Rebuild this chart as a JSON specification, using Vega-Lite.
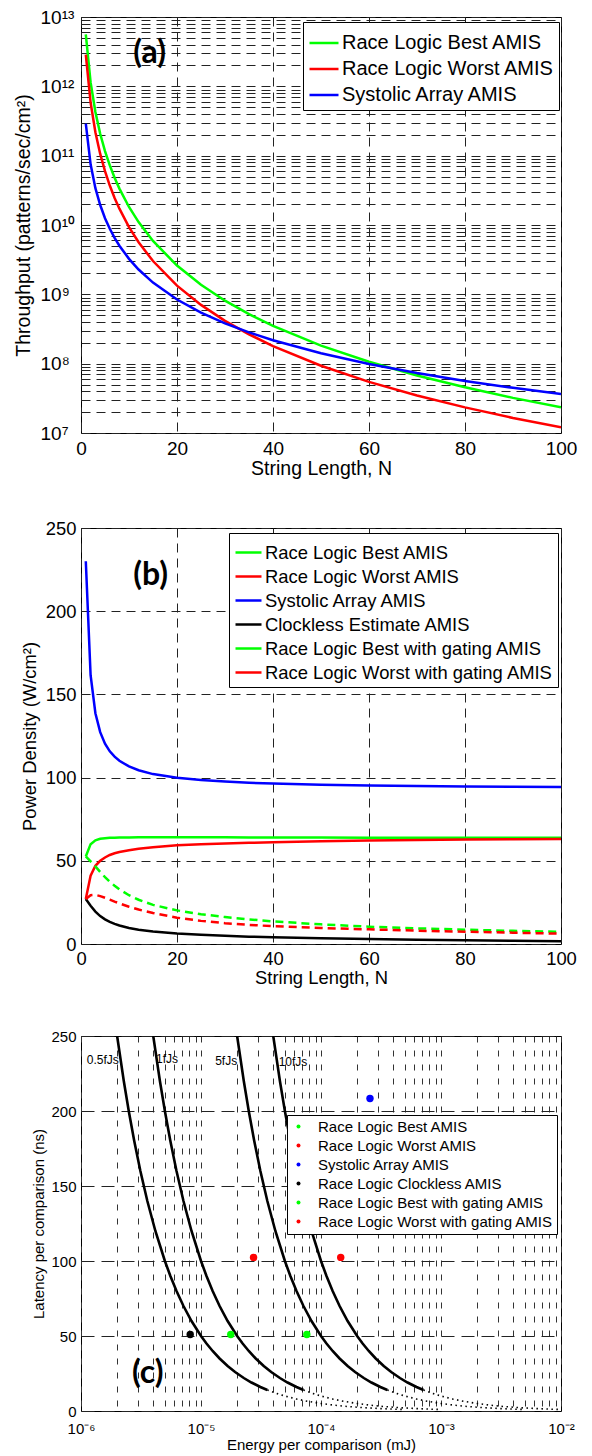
{
"$schema":"https://vega.github.io/schema/vega-lite/v6.json",
"background":"white",
"padding":{"left":12,"top":7,"right":4,"bottom":2},
"spacing":40,
"resolve":{"scale":{"color":"independent"}},
"config":{
 "font":"Liberation Sans",
 "view":{"stroke":"black","strokeWidth":1},
 "axis":{"domain":false,"ticks":false,"labelColor":"black","titleColor":"black","titleFontWeight":"normal","gridColor":"#222","gridOpacity":1,"gridWidth":1,"labelFlush":false,"labelOverlap":false}
},
"datasets":{
"thr":[
{"s":"Race Logic Best AMIS","N":1,"v":5.6e12},{"s":"Race Logic Best AMIS","N":2,"v":1.138e12},{"s":"Race Logic Best AMIS","N":3,"v":4.26e11},{"s":"Race Logic Best AMIS","N":4,"v":2.07e11},{"s":"Race Logic Best AMIS","N":5,"v":1.165e11},{"s":"Race Logic Best AMIS","N":6,"v":7.23e10},{"s":"Race Logic Best AMIS","N":7,"v":4.8e10},{"s":"Race Logic Best AMIS","N":8,"v":3.35e10},{"s":"Race Logic Best AMIS","N":10,"v":1.82e10},{"s":"Race Logic Best AMIS","N":12,"v":1.1e10},{"s":"Race Logic Best AMIS","N":15,"v":5.89e9},{"s":"Race Logic Best AMIS","N":20,"v":2.6e9},{"s":"Race Logic Best AMIS","N":25,"v":1.372e9},{"s":"Race Logic Best AMIS","N":30,"v":8.1e8},{"s":"Race Logic Best AMIS","N":35,"v":5.17e8},{"s":"Race Logic Best AMIS","N":40,"v":3.5e8},{"s":"Race Logic Best AMIS","N":50,"v":1.822e8},{"s":"Race Logic Best AMIS","N":60,"v":1.066e8},{"s":"Race Logic Best AMIS","N":70,"v":6.76e7},{"s":"Race Logic Best AMIS","N":80,"v":4.56e7},{"s":"Race Logic Best AMIS","N":90,"v":3.21e7},{"s":"Race Logic Best AMIS","N":100,"v":2.35e7},
{"s":"Race Logic Worst AMIS","N":1,"v":2.87e12},{"s":"Race Logic Worst AMIS","N":2,"v":5.84e11},{"s":"Race Logic Worst AMIS","N":3,"v":2.18e11},{"s":"Race Logic Worst AMIS","N":4,"v":1.06e11},{"s":"Race Logic Worst AMIS","N":5,"v":5.97e10},{"s":"Race Logic Worst AMIS","N":6,"v":3.71e10},{"s":"Race Logic Worst AMIS","N":7,"v":2.46e10},{"s":"Race Logic Worst AMIS","N":8,"v":1.72e10},{"s":"Race Logic Worst AMIS","N":10,"v":9.33e9},{"s":"Race Logic Worst AMIS","N":12,"v":5.64e9},{"s":"Race Logic Worst AMIS","N":15,"v":3.02e9},{"s":"Race Logic Worst AMIS","N":20,"v":1.333e9},{"s":"Race Logic Worst AMIS","N":25,"v":7.04e8},{"s":"Race Logic Worst AMIS","N":30,"v":4.15e8},{"s":"Race Logic Worst AMIS","N":35,"v":2.65e8},{"s":"Race Logic Worst AMIS","N":40,"v":1.795e8},{"s":"Race Logic Worst AMIS","N":50,"v":9.34e7},{"s":"Race Logic Worst AMIS","N":60,"v":5.47e7},{"s":"Race Logic Worst AMIS","N":70,"v":3.47e7},{"s":"Race Logic Worst AMIS","N":80,"v":2.34e7},{"s":"Race Logic Worst AMIS","N":90,"v":1.646e7},{"s":"Race Logic Worst AMIS","N":100,"v":1.205e7},
{"s":"Systolic Array AMIS","N":1,"v":2.9e11},{"s":"Systolic Array AMIS","N":2,"v":7.51e10},{"s":"Systolic Array AMIS","N":3,"v":3.4e10},{"s":"Systolic Array AMIS","N":4,"v":1.942e10},{"s":"Systolic Array AMIS","N":5,"v":1.255e10},{"s":"Systolic Array AMIS","N":6,"v":8.81e9},{"s":"Systolic Array AMIS","N":7,"v":6.52e9},{"s":"Systolic Array AMIS","N":8,"v":5.03e9},{"s":"Systolic Array AMIS","N":10,"v":3.25e9},{"s":"Systolic Array AMIS","N":12,"v":2.28e9},{"s":"Systolic Array AMIS","N":15,"v":1.476e9},{"s":"Systolic Array AMIS","N":20,"v":8.42e8},{"s":"Systolic Array AMIS","N":25,"v":5.45e8},{"s":"Systolic Array AMIS","N":30,"v":3.82e8},{"s":"Systolic Array AMIS","N":35,"v":2.83e8},{"s":"Systolic Array AMIS","N":40,"v":2.18e8},{"s":"Systolic Array AMIS","N":50,"v":1.41e8},{"s":"Systolic Array AMIS","N":60,"v":9.88e7},{"s":"Systolic Array AMIS","N":70,"v":7.32e7},{"s":"Systolic Array AMIS","N":80,"v":5.64e7},{"s":"Systolic Array AMIS","N":90,"v":4.48e7},{"s":"Systolic Array AMIS","N":100,"v":3.65e7}
],
"powSolid":[
{"s":"Race Logic Best AMIS","N":1,"v":52.6},{"s":"Race Logic Best AMIS","N":2,"v":60},{"s":"Race Logic Best AMIS","N":3,"v":62.3},{"s":"Race Logic Best AMIS","N":4,"v":63.2},{"s":"Race Logic Best AMIS","N":5,"v":63.6},{"s":"Race Logic Best AMIS","N":6,"v":63.8},{"s":"Race Logic Best AMIS","N":7,"v":63.9},{"s":"Race Logic Best AMIS","N":8,"v":64},{"s":"Race Logic Best AMIS","N":10,"v":64},{"s":"Race Logic Best AMIS","N":12,"v":64.1},{"s":"Race Logic Best AMIS","N":15,"v":64.1},{"s":"Race Logic Best AMIS","N":20,"v":64.1},{"s":"Race Logic Best AMIS","N":25,"v":64.1},{"s":"Race Logic Best AMIS","N":30,"v":64.1},{"s":"Race Logic Best AMIS","N":35,"v":64},{"s":"Race Logic Best AMIS","N":40,"v":64},{"s":"Race Logic Best AMIS","N":50,"v":64},{"s":"Race Logic Best AMIS","N":60,"v":63.9},{"s":"Race Logic Best AMIS","N":70,"v":63.9},{"s":"Race Logic Best AMIS","N":80,"v":63.9},{"s":"Race Logic Best AMIS","N":90,"v":63.8},{"s":"Race Logic Best AMIS","N":100,"v":63.8},
{"s":"Race Logic Worst AMIS","N":1,"v":27},{"s":"Race Logic Worst AMIS","N":2,"v":41},{"s":"Race Logic Worst AMIS","N":3,"v":47},{"s":"Race Logic Worst AMIS","N":4,"v":50},{"s":"Race Logic Worst AMIS","N":5,"v":52},{"s":"Race Logic Worst AMIS","N":6,"v":53.5},{"s":"Race Logic Worst AMIS","N":7,"v":54.5},{"s":"Race Logic Worst AMIS","N":8,"v":55.3},{"s":"Race Logic Worst AMIS","N":10,"v":56.3},{"s":"Race Logic Worst AMIS","N":12,"v":57.2},{"s":"Race Logic Worst AMIS","N":15,"v":58.2},{"s":"Race Logic Worst AMIS","N":20,"v":59.3},{"s":"Race Logic Worst AMIS","N":25,"v":59.9},{"s":"Race Logic Worst AMIS","N":30,"v":60.4},{"s":"Race Logic Worst AMIS","N":35,"v":60.8},{"s":"Race Logic Worst AMIS","N":40,"v":61.2},{"s":"Race Logic Worst AMIS","N":50,"v":61.7},{"s":"Race Logic Worst AMIS","N":60,"v":62.2},{"s":"Race Logic Worst AMIS","N":70,"v":62.5},{"s":"Race Logic Worst AMIS","N":80,"v":62.8},{"s":"Race Logic Worst AMIS","N":90,"v":63},{"s":"Race Logic Worst AMIS","N":100,"v":63.1},
{"s":"Systolic Array AMIS","N":1,"v":230},{"s":"Systolic Array AMIS","N":2,"v":161.5},{"s":"Systolic Array AMIS","N":3,"v":138.7},{"s":"Systolic Array AMIS","N":4,"v":127.3},{"s":"Systolic Array AMIS","N":5,"v":120.4},{"s":"Systolic Array AMIS","N":6,"v":115.8},{"s":"Systolic Array AMIS","N":7,"v":112.6},{"s":"Systolic Array AMIS","N":8,"v":110.1},{"s":"Systolic Array AMIS","N":10,"v":106.7},{"s":"Systolic Array AMIS","N":12,"v":104.4},{"s":"Systolic Array AMIS","N":15,"v":102.1},{"s":"Systolic Array AMIS","N":20,"v":99.9},{"s":"Systolic Array AMIS","N":25,"v":98.5},{"s":"Systolic Array AMIS","N":30,"v":97.6},{"s":"Systolic Array AMIS","N":35,"v":96.9},{"s":"Systolic Array AMIS","N":40,"v":96.4},{"s":"Systolic Array AMIS","N":50,"v":95.7},{"s":"Systolic Array AMIS","N":60,"v":95.3},{"s":"Systolic Array AMIS","N":70,"v":95},{"s":"Systolic Array AMIS","N":80,"v":94.7},{"s":"Systolic Array AMIS","N":90,"v":94.5},{"s":"Systolic Array AMIS","N":100,"v":94.4},
{"s":"Clockless Estimate AMIS","N":1,"v":27},{"s":"Clockless Estimate AMIS","N":2,"v":23},{"s":"Clockless Estimate AMIS","N":3,"v":19.5},{"s":"Clockless Estimate AMIS","N":4,"v":16.8},{"s":"Clockless Estimate AMIS","N":5,"v":14.8},{"s":"Clockless Estimate AMIS","N":6,"v":13.3},{"s":"Clockless Estimate AMIS","N":7,"v":12.1},{"s":"Clockless Estimate AMIS","N":8,"v":11.1},{"s":"Clockless Estimate AMIS","N":10,"v":9.6},{"s":"Clockless Estimate AMIS","N":12,"v":8.6},{"s":"Clockless Estimate AMIS","N":15,"v":7.5},{"s":"Clockless Estimate AMIS","N":20,"v":6.3},{"s":"Clockless Estimate AMIS","N":25,"v":5.5},{"s":"Clockless Estimate AMIS","N":30,"v":4.9},{"s":"Clockless Estimate AMIS","N":35,"v":4.4},{"s":"Clockless Estimate AMIS","N":40,"v":4},{"s":"Clockless Estimate AMIS","N":50,"v":3.4},{"s":"Clockless Estimate AMIS","N":60,"v":3},{"s":"Clockless Estimate AMIS","N":70,"v":2.6},{"s":"Clockless Estimate AMIS","N":80,"v":2.2},{"s":"Clockless Estimate AMIS","N":90,"v":1.9},{"s":"Clockless Estimate AMIS","N":100,"v":1.6}
],
"powDash":[
{"s":"Race Logic Best with gating AMIS","N":1,"v":52.6},{"s":"Race Logic Best with gating AMIS","N":2,"v":49.6},{"s":"Race Logic Best with gating AMIS","N":3,"v":46.6},{"s":"Race Logic Best with gating AMIS","N":4,"v":43.3},{"s":"Race Logic Best with gating AMIS","N":5,"v":40.2},{"s":"Race Logic Best with gating AMIS","N":6,"v":37.4},{"s":"Race Logic Best with gating AMIS","N":7,"v":35},{"s":"Race Logic Best with gating AMIS","N":8,"v":32.8},{"s":"Race Logic Best with gating AMIS","N":10,"v":29.3},{"s":"Race Logic Best with gating AMIS","N":12,"v":26.6},{"s":"Race Logic Best with gating AMIS","N":15,"v":23.5},{"s":"Race Logic Best with gating AMIS","N":20,"v":20.2},{"s":"Race Logic Best with gating AMIS","N":25,"v":17.9},{"s":"Race Logic Best with gating AMIS","N":30,"v":16.2},{"s":"Race Logic Best with gating AMIS","N":35,"v":14.8},{"s":"Race Logic Best with gating AMIS","N":40,"v":13.6},{"s":"Race Logic Best with gating AMIS","N":50,"v":11.8},{"s":"Race Logic Best with gating AMIS","N":60,"v":10.4},{"s":"Race Logic Best with gating AMIS","N":70,"v":9.4},{"s":"Race Logic Best with gating AMIS","N":80,"v":8.6},{"s":"Race Logic Best with gating AMIS","N":90,"v":7.9},{"s":"Race Logic Best with gating AMIS","N":100,"v":7.3},
{"s":"Race Logic Worst with gating AMIS","N":1,"v":27},{"s":"Race Logic Worst with gating AMIS","N":2,"v":29.3},{"s":"Race Logic Worst with gating AMIS","N":3,"v":29.5},{"s":"Race Logic Worst with gating AMIS","N":4,"v":28.8},{"s":"Race Logic Worst with gating AMIS","N":5,"v":27.8},{"s":"Race Logic Worst with gating AMIS","N":6,"v":26.7},{"s":"Race Logic Worst with gating AMIS","N":7,"v":25.5},{"s":"Race Logic Worst with gating AMIS","N":8,"v":24.4},{"s":"Race Logic Worst with gating AMIS","N":10,"v":22.4},{"s":"Race Logic Worst with gating AMIS","N":12,"v":20.7},{"s":"Race Logic Worst with gating AMIS","N":15,"v":18.6},{"s":"Race Logic Worst with gating AMIS","N":20,"v":15.8},{"s":"Race Logic Worst with gating AMIS","N":25,"v":13.9},{"s":"Race Logic Worst with gating AMIS","N":30,"v":12.5},{"s":"Race Logic Worst with gating AMIS","N":35,"v":11.5},{"s":"Race Logic Worst with gating AMIS","N":40,"v":10.7},{"s":"Race Logic Worst with gating AMIS","N":50,"v":9.6},{"s":"Race Logic Worst with gating AMIS","N":60,"v":8.8},{"s":"Race Logic Worst with gating AMIS","N":70,"v":8},{"s":"Race Logic Worst with gating AMIS","N":80,"v":7.4},{"s":"Race Logic Worst with gating AMIS","N":90,"v":6.8},{"s":"Race Logic Worst with gating AMIS","N":100,"v":6.2}
],
"curvesSolid":[
{"c":"0.5","t":250,"E":2e-6},{"c":"0.5","t":220,"E":2.2727e-6},{"c":"0.5","t":200,"E":2.5e-6},{"c":"0.5","t":180,"E":2.7778e-6},{"c":"0.5","t":160,"E":3.125e-6},{"c":"0.5","t":140,"E":3.5714e-6},{"c":"0.5","t":120,"E":4.1667e-6},{"c":"0.5","t":100,"E":5e-6},{"c":"0.5","t":90,"E":5.5556e-6},{"c":"0.5","t":80,"E":6.25e-6},{"c":"0.5","t":70,"E":7.1429e-6},{"c":"0.5","t":60,"E":8.3333e-6},{"c":"0.5","t":50,"E":1e-5},{"c":"0.5","t":45,"E":1.1111e-5},{"c":"0.5","t":40,"E":1.25e-5},{"c":"0.5","t":35,"E":1.4286e-5},{"c":"0.5","t":30,"E":1.6667e-5},{"c":"0.5","t":26,"E":1.9231e-5},{"c":"0.5","t":22,"E":2.2727e-5},{"c":"0.5","t":19,"E":2.6316e-5},{"c":"0.5","t":16,"E":3.125e-5},{"c":"0.5","t":14,"E":3.5714e-5},
{"c":"1","t":250,"E":4e-6},{"c":"1","t":220,"E":4.5455e-6},{"c":"1","t":200,"E":5e-6},{"c":"1","t":180,"E":5.5556e-6},{"c":"1","t":160,"E":6.25e-6},{"c":"1","t":140,"E":7.1429e-6},{"c":"1","t":120,"E":8.3333e-6},{"c":"1","t":100,"E":1e-5},{"c":"1","t":90,"E":1.1111e-5},{"c":"1","t":80,"E":1.25e-5},{"c":"1","t":70,"E":1.4286e-5},{"c":"1","t":60,"E":1.6667e-5},{"c":"1","t":50,"E":2e-5},{"c":"1","t":45,"E":2.2222e-5},{"c":"1","t":40,"E":2.5e-5},{"c":"1","t":35,"E":2.8571e-5},{"c":"1","t":30,"E":3.3333e-5},{"c":"1","t":26,"E":3.8462e-5},{"c":"1","t":22,"E":4.5455e-5},{"c":"1","t":19,"E":5.2632e-5},{"c":"1","t":16,"E":6.25e-5},{"c":"1","t":14,"E":7.1429e-5},
{"c":"5","t":250,"E":2e-5},{"c":"5","t":220,"E":2.2727e-5},{"c":"5","t":200,"E":2.5e-5},{"c":"5","t":180,"E":2.7778e-5},{"c":"5","t":160,"E":3.125e-5},{"c":"5","t":140,"E":3.5714e-5},{"c":"5","t":120,"E":4.1667e-5},{"c":"5","t":100,"E":5e-5},{"c":"5","t":90,"E":5.5556e-5},{"c":"5","t":80,"E":6.25e-5},{"c":"5","t":70,"E":7.1429e-5},{"c":"5","t":60,"E":8.3333e-5},{"c":"5","t":50,"E":1e-4},{"c":"5","t":45,"E":1.1111e-4},{"c":"5","t":40,"E":1.25e-4},{"c":"5","t":35,"E":1.4286e-4},{"c":"5","t":30,"E":1.6667e-4},{"c":"5","t":26,"E":1.9231e-4},{"c":"5","t":22,"E":2.2727e-4},{"c":"5","t":19,"E":2.6316e-4},{"c":"5","t":16,"E":3.125e-4},{"c":"5","t":14,"E":3.5714e-4},
{"c":"10","t":250,"E":4e-5},{"c":"10","t":220,"E":4.5455e-5},{"c":"10","t":200,"E":5e-5},{"c":"10","t":180,"E":5.5556e-5},{"c":"10","t":160,"E":6.25e-5},{"c":"10","t":140,"E":7.1429e-5},{"c":"10","t":120,"E":8.3333e-5},{"c":"10","t":100,"E":1e-4},{"c":"10","t":90,"E":1.1111e-4},{"c":"10","t":80,"E":1.25e-4},{"c":"10","t":70,"E":1.4286e-4},{"c":"10","t":60,"E":1.6667e-4},{"c":"10","t":50,"E":2e-4},{"c":"10","t":45,"E":2.2222e-4},{"c":"10","t":40,"E":2.5e-4},{"c":"10","t":35,"E":2.8571e-4},{"c":"10","t":30,"E":3.3333e-4},{"c":"10","t":26,"E":3.8462e-4},{"c":"10","t":22,"E":4.5455e-4},{"c":"10","t":19,"E":5.2632e-4},{"c":"10","t":16,"E":6.25e-4},{"c":"10","t":14,"E":7.1429e-4}
],
"curvesDot":[
{"c":"0.5","t":14,"E":3.5714e-5},{"c":"0.5","t":12,"E":4.1667e-5},{"c":"0.5","t":10,"E":5e-5},{"c":"0.5","t":8,"E":6.25e-5},{"c":"0.5","t":6.5,"E":7.6923e-5},{"c":"0.5","t":5,"E":1e-4},{"c":"0.5","t":4,"E":1.25e-4},{"c":"0.5","t":3,"E":1.6667e-4},{"c":"0.5","t":2.2,"E":2.2727e-4},{"c":"0.5","t":1.6,"E":3.125e-4},{"c":"0.5","t":1.2,"E":4.1667e-4},{"c":"0.5","t":1,"E":5e-4},
{"c":"1","t":14,"E":7.1429e-5},{"c":"1","t":12,"E":8.3333e-5},{"c":"1","t":10,"E":1e-4},{"c":"1","t":8,"E":1.25e-4},{"c":"1","t":6.5,"E":1.5385e-4},{"c":"1","t":5,"E":2e-4},{"c":"1","t":4,"E":2.5e-4},{"c":"1","t":3,"E":3.3333e-4},{"c":"1","t":2.2,"E":4.5455e-4},{"c":"1","t":1.6,"E":6.25e-4},{"c":"1","t":1.2,"E":8.3333e-4},{"c":"1","t":1,"E":1e-3},
{"c":"5","t":14,"E":3.5714e-4},{"c":"5","t":12,"E":4.1667e-4},{"c":"5","t":10,"E":5e-4},{"c":"5","t":8,"E":6.25e-4},{"c":"5","t":6.5,"E":7.6923e-4},{"c":"5","t":5,"E":1e-3},{"c":"5","t":4,"E":1.25e-3},{"c":"5","t":3,"E":1.6667e-3},{"c":"5","t":2.2,"E":2.2727e-3},{"c":"5","t":1.6,"E":3.125e-3},{"c":"5","t":1.2,"E":4.1667e-3},{"c":"5","t":1,"E":5e-3},
{"c":"10","t":14,"E":7.1429e-4},{"c":"10","t":12,"E":8.3333e-4},{"c":"10","t":10,"E":1e-3},{"c":"10","t":8,"E":1.25e-3},{"c":"10","t":6.5,"E":1.5385e-3},{"c":"10","t":5,"E":2e-3},{"c":"10","t":4,"E":2.5e-3},{"c":"10","t":3,"E":3.3333e-3},{"c":"10","t":2.2,"E":4.5455e-3},{"c":"10","t":1.6,"E":6.25e-3},{"c":"10","t":1.2,"E":8.3333e-3},{"c":"10","t":1,"E":1e-2}
],
"pts":[
{"s":"Race Logic Best AMIS","E":7.62e-5,"t":51},
{"s":"Race Logic Worst AMIS","E":1.46e-4,"t":102.4},
{"s":"Systolic Array AMIS","E":2.56e-4,"t":208.3},
{"s":"Race Logic Clockless AMIS","E":8.13e-6,"t":51},
{"s":"Race Logic Best with gating AMIS","E":1.77e-5,"t":51},
{"s":"Race Logic Worst with gating AMIS","E":2.74e-5,"t":102.4}
],
"ann":[
{"txt":"0.5fJs","E":1.52e-6,"t":234.2},
{"txt":"1fJs","E":5.21e-6,"t":234.7},
{"txt":"5fJs","E":1.62e-5,"t":233.3},
{"txt":"10fJs","E":5.84e-5,"t":232.7}
]
},
"vconcat":[
{
 "width":480,"height":416,
 "layer":[
  {"data":{"name":"thr"},
   "mark":{"type":"line","strokeWidth":2.5,"clip":true},
   "encoding":{
    "x":{"field":"N","type":"quantitative","title":"String Length, N","scale":{"domain":[0,100],"nice":false},
      "axis":{"values":[0,20,40,60,80,100],"grid":true,"gridDash":[9,6],"labelFontSize":19,"labelPadding":6,"titleFontSize":19.5,"titlePadding":1}},
    "y":{"field":"v","type":"quantitative","title":"Throughput (patterns/sec/cm²)","scale":{"type":"log","domain":[1e7,1e13],"nice":false},
      "axis":{"labelExpr":"datum.value == 1e7 ? '10⁷' : datum.value == 1e8 ? '10⁸' : datum.value == 1e9 ? '10⁹' : datum.value == 1e10 ? '10¹⁰' : datum.value == 1e11 ? '10¹¹' : datum.value == 1e12 ? '10¹²' : datum.value == 1e13 ? '10¹³' : ''",
       "grid":true,"gridDash":[9,6],"labelAlign":"left","labelPadding":41,"labelFontSize":19,"titleFontSize":19.5,"titlePadding":7}},
    "color":{"field":"s","type":"nominal","title":null,"scale":{"domain":["Race Logic Best AMIS","Race Logic Worst AMIS","Systolic Array AMIS"],"range":["#00ff00","#ff0000","#0000ff"]},
      "legend":{"orient":"none","legendX":222,"legendY":5,"padding":5,"labelFontSize":20,"rowPadding":0,"symbolType":"stroke","symbolSize":841,"symbolStrokeWidth":2.5,"labelOffset":2,"labelLimit":400,"labelColor":"black","strokeColor":"black","fillColor":"white"}}
   }},
  {"data":{"values":[{"lab":"(a)","N":14.3,"v":2.99e12}]},
   "mark":{"type":"text","font":"Lato","fontWeight":"bold","fontSize":32,"align":"center","baseline":"middle"},
   "encoding":{"x":{"field":"N","type":"quantitative","title":"String Length, N"},"y":{"field":"v","type":"quantitative","title":"Throughput (patterns/sec/cm²)"},"text":{"field":"lab"}}}
 ]
},
{
 "width":480,"height":416,
 "layer":[
  {"data":{"name":"powSolid"},
   "mark":{"type":"line","strokeWidth":2.5,"clip":true},
   "encoding":{
    "x":{"field":"N","type":"quantitative","title":"String Length, N","scale":{"domain":[0,100],"nice":false},
      "axis":{"values":[0,20,40,60,80,100],"grid":true,"gridDash":[9,6],"labelFontSize":18.4,"labelPadding":5,"titleFontSize":18.4,"titlePadding":1}},
    "y":{"field":"v","type":"quantitative","title":"Power Density (W/cm²)","scale":{"domain":[0,250],"nice":false},
      "axis":{"values":[0,50,100,150,200,250],"grid":true,"gridDash":[9,6],"labelPadding":5,"labelFontSize":18.4,"titleFontSize":18.4,"titlePadding":6}},
    "color":{"field":"s","type":"nominal","title":null,"scale":{"domain":["Race Logic Best AMIS","Race Logic Worst AMIS","Systolic Array AMIS","Clockless Estimate AMIS","Race Logic Best with gating AMIS","Race Logic Worst with gating AMIS"],"range":["#00ff00","#ff0000","#0000ff","#000000","#00ff00","#ff0000"]},
      "legend":{"orient":"none","legendX":148,"legendY":5,"padding":5,"labelFontSize":18.4,"rowPadding":0,"symbolType":"stroke","symbolSize":676,"symbolStrokeWidth":2.5,"labelOffset":2,"labelLimit":400,"labelColor":"black","strokeColor":"black","fillColor":"white"}}
   }},
  {"data":{"name":"powDash"},
   "mark":{"type":"line","strokeWidth":2.5,"strokeDash":[8,5],"clip":true},
   "encoding":{
    "x":{"field":"N","type":"quantitative","title":"String Length, N"},
    "y":{"field":"v","type":"quantitative","title":"Power Density (W/cm²)"},
    "color":{"field":"s","type":"nominal","title":null}
   }},
  {"data":{"values":[{"lab":"(b)","N":14.5,"v":221.7}]},
   "mark":{"type":"text","font":"Lato","fontWeight":"bold","fontSize":32,"align":"center","baseline":"middle"},
   "encoding":{"x":{"field":"N","type":"quantitative","title":"String Length, N"},"y":{"field":"v","type":"quantitative","title":"Power Density (W/cm²)"},"text":{"field":"lab"}}}
 ]
},
{
 "width":480,"height":375,
 "layer":[
  {"data":{"name":"curvesSolid"},
   "mark":{"type":"line","color":"black","strokeWidth":2.6,"clip":true},
   "encoding":{
    "x":{"field":"E","type":"quantitative","title":"Energy per comparison (mJ)","scale":{"type":"log","domain":[1e-6,1e-2],"nice":false},
      "axis":{"labelExpr":"datum.value == 1e-6 ? '10⁻⁶' : datum.value == 1e-5 ? '10⁻⁵' : datum.value == 1e-4 ? '10⁻⁴' : datum.value == 1e-3 ? '10⁻³' : datum.value == 1e-2 ? '10⁻²' : ''",
       "grid":true,"gridDash":[6,8],"gridColor":"#333","labelFontSize":15,"labelPadding":10,"titleFontSize":15,"titlePadding":1}},
    "y":{"field":"t","type":"quantitative","title":"Latency per comparison (ns)","scale":{"domain":[0,250],"nice":false},
      "axis":{"values":[0,50,100,150,200,250],"grid":true,"gridDash":[13,7],"labelPadding":5,"labelFontSize":15,"titleFontSize":15,"titlePadding":4}},
    "detail":{"field":"c"}
   }},
  {"data":{"name":"curvesDot"},
   "mark":{"type":"line","color":"black","strokeWidth":1.6,"strokeDash":[1.5,3.5],"clip":true},
   "encoding":{
    "x":{"field":"E","type":"quantitative","title":"Energy per comparison (mJ)"},
    "y":{"field":"t","type":"quantitative","title":"Latency per comparison (ns)"},
    "detail":{"field":"c"}
   }},
  {"data":{"name":"ann"},
   "mark":{"type":"text","fontSize":12,"align":"center","baseline":"middle","color":"black"},
   "encoding":{"x":{"field":"E","type":"quantitative","title":"Energy per comparison (mJ)"},"y":{"field":"t","type":"quantitative","title":"Latency per comparison (ns)"},"text":{"field":"txt"}}},
  {"data":{"name":"pts"},
   "mark":{"type":"point","filled":true,"size":55,"opacity":1},
   "encoding":{
    "x":{"field":"E","type":"quantitative","title":"Energy per comparison (mJ)"},
    "y":{"field":"t","type":"quantitative","title":"Latency per comparison (ns)"},
    "color":{"field":"s","type":"nominal","title":null,"scale":{"domain":["Race Logic Best AMIS","Race Logic Worst AMIS","Systolic Array AMIS","Race Logic Clockless AMIS","Race Logic Best with gating AMIS","Race Logic Worst with gating AMIS"],"range":["#00ff00","#ff0000","#0000ff","#000000","#00ff00","#ff0000"]},
      "legend":{"orient":"none","legendX":206,"legendY":79,"padding":4,"labelFontSize":15,"rowPadding":3,"symbolSize":16,"symbolOpacity":1,"labelOffset":12,"labelLimit":400,"labelColor":"black","strokeColor":"black","fillColor":"white"}}
   }},
  {"data":{"values":[{"lab":"(c)","E":3.6e-6,"t":25.3}]},
   "mark":{"type":"text","font":"Lato","fontWeight":"bold","fontSize":32,"align":"center","baseline":"middle"},
   "encoding":{"x":{"field":"E","type":"quantitative","title":"Energy per comparison (mJ)"},"y":{"field":"t","type":"quantitative","title":"Latency per comparison (ns)"},"text":{"field":"lab"}}}
 ]
}
]
}
